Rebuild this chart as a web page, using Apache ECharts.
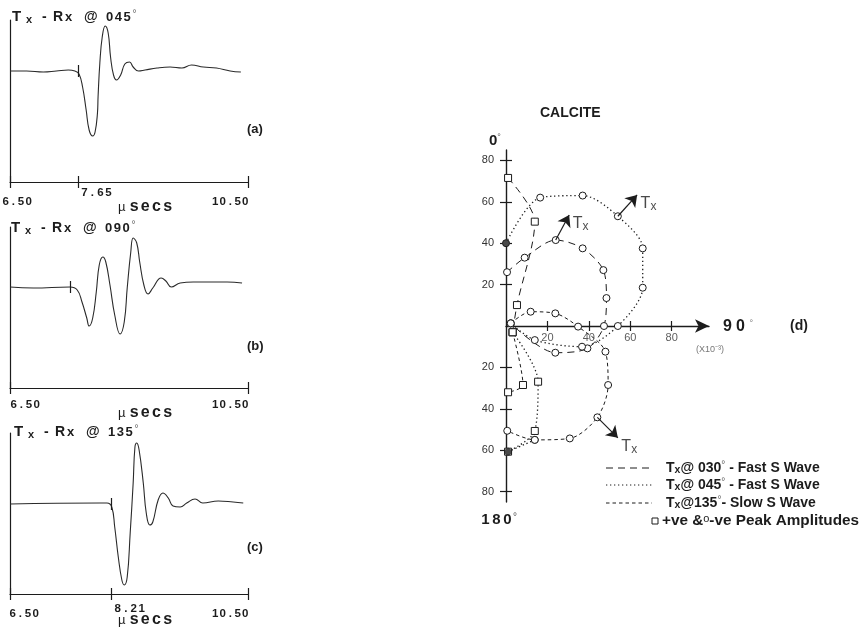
<!DOCTYPE html>
<html><head><meta charset="utf-8">
<script src="https://cdn.jsdelivr.net/npm/echarts@6/dist/echarts.min.js"></script>
<style>html,body{margin:0;padding:0;background:#fff}#c{width:863px;height:629px}</style>
</head><body><div id="c"></div>
<script>
// ---------- Waveforms (time in µs, amplitude in arbitrary units) ----------
// (a) Tx - Rx @ 045°
const timeA = [6.50,6.78,7.06,7.28,7.48,7.59,7.66,7.72,7.78,7.83,7.89,7.93,7.97,7.98,8.01,8.05,8.10,8.15,8.19,8.24,8.29,8.36,8.43,8.51,8.57,8.66,8.77,8.97,9.19,9.39,9.55,9.75,9.97,10.20,10.38];
const ampA  = [0,0,-1,0,1,0,-3,-16,-39,-59,-65,-61,-42,-26,8,34,45,38,14,-4,-9,-4,7,9,4,0,1,3,4,3,6,4,3,0,-1];
// (b) Tx - Rx @ 090°
const timeB = [6.50,6.89,7.51,7.63,7.71,7.79,7.83,7.89,7.95,8.00,8.06,8.11,8.18,8.26,8.35,8.42,8.47,8.53,8.57,8.63,8.68,8.75,8.82,8.90,9.04,9.12,9.21,9.36,9.58,9.86,10.15,10.40];
const ampB  = [0,-1,0,-3,-15,-31,-39,-31,-5,22,30,25,2,-28,-47,-35,-1,35,49,44,25,2,-7,-1,9,6,0,4,5,5,5,4];
// (c) Tx - Rx @ 135°
const timeC = [6.50,8.01,8.13,8.21,8.26,8.32,8.38,8.42,8.47,8.52,8.57,8.60,8.63,8.67,8.74,8.79,8.85,8.90,8.99,9.07,9.16,9.24,9.36,9.47,9.61,9.74,10.00,10.25,10.42];
const ampC  = [0,1,1,-3,-23,-53,-76,-81,-73,-29,21,57,61,54,21,-9,-21,-18,4,11,6,-2,-3,1,5,1,3,2,1];
const timeRange = [6.50, 10.50];
const onsetA = 7.65, onsetB = 7.51, onsetC = 8.21;
const panelAngles = ['045', '090', '135'];

// ---------- (d) CALCITE polar amplitude plot (x10^-3) ----------
const fast030Neg = [[0.5,26],[9,33],[24,41.5],[37,37.5],[47,27],[48.5,13.5],[47.3,0],[39.3,-10.8],[23.8,-12.9],[2.3,1.3]];
const fast030Pos = [[1,71.5],[13.9,50.4],[5.3,10.1],[3.2,-3]];
const fast045Neg = [[0,40],[16.5,62],[37,63],[54,53],[66,37.5],[66,18.5],[54,0],[36.7,-10],[13.9,-6.8],[2.3,1.3]];
const fast045NegLower = [[1,-60.7],[13.9,-55]];
const fast045Pos = [[3.2,-3],[15.5,-26.9],[13.9,-50.7],[1,-60.7]];
const slow135Neg = [[2.3,1.3],[11.9,6.9],[23.8,6.1],[34.8,-0.3],[48,-12.4],[49.3,-28.5],[44.1,-44.1],[30.8,-54.3],[13.9,-55],[0.6,-50.6]];
const slow135Pos = [[3.2,-3],[8.2,-28.5],[1,-32]];
const overlapPeaks = [[0,40],[1,-60.7]];
const txFrom = [[54,53],[24,41.5],[44.1,-44.1]];
const txTo   = [[63.3,63.3],[30.5,53.6],[54,-54]];
const ampTicks = [-80,-60,-40,-20,20,40,60,80];
const bearingTicks = [20,40,60,80];

const FONT = '"Liberation Sans", Arial, Helvetica, sans-serif';
const ink = '#1c1c1c';
const bold = (s) => 'bold ' + s + 'px ' + FONT;
const zip = (xs, ys) => xs.map((x, i) => [x, ys[i]]);

// letter-spaced text made of fixed-width rich cells
function spaced(str, cell, font, fill) {
  const rich = {c: {width: cell, align: 'center', font: font, fill: fill || ink}};
  return {text: str.split('').map(ch => '{c|' + ch + '}').join(''), rich: rich};
}

const chart = echarts.init(document.getElementById('c'), null, {renderer: 'canvas'});

const panels = [
  {top: 20, h: 162, y: [-111, 51], t: timeA, a: ampA, onset: onsetA, ticks: [6.5, onsetA, 10.5], lab: 202, mu: 207, minOff: -8, title: [12, 17]},
  {top: 227, h: 161, y: [-101, 60], t: timeB, a: ampB, onset: onsetB, ticks: [6.5, 10.5], lab: 405, mu: 413, minOff: 0, title: [11, 228]},
  {top: 433, h: 161, y: [-90, 71], t: timeC, a: ampC, onset: onsetC, ticks: [6.5, onsetC, 10.5], lab: 614, mu: 620, minOff: -1, title: [14, 432]}
];

const grids = [], xAxes = [], yAxes = [], series = [];
const axLine = {show: true, onZero: false, lineStyle: {color: ink, width: 1.2}};
panels.forEach((p, i) => {
  grids.push({left: 10, top: p.top, width: 238, height: p.h, outerBoundsMode: 'none', containLabel: false});
  xAxes.push({
    type: 'value', gridIndex: i, min: timeRange[0], max: timeRange[1], position: 'bottom',
    axisLine: axLine, splitLine: {show: false}, axisLabel: {show: false},
    axisTick: {show: true, length: 6, customValues: p.ticks, lineStyle: {color: ink, width: 1.2}}
  });
  yAxes.push({
    type: 'value', gridIndex: i, min: p.y[0], max: p.y[1],
    axisLine: axLine, axisTick: {show: false}, axisLabel: {show: false}, splitLine: {show: false}
  });
  series.push({
    type: 'line', xAxisIndex: i, yAxisIndex: i, data: zip(p.t, p.a), smooth: 0.45, showSymbol: false,
    lineStyle: {color: '#2a2a2a', width: 1.1},
    markLine: {silent: true, symbol: 'none', label: {show: false}, animation: false,
      lineStyle: {color: ink, width: 1.2, type: 'solid'},
      data: [[{coord: [p.onset, -6]}, {coord: [p.onset, 6]}]]}
  });
});
panels.forEach((p, i) => {
  xAxes.push({
    type: 'value', gridIndex: i, min: timeRange[0], max: timeRange[1], position: 'bottom',
    axisLine: {show: false, onZero: false}, splitLine: {show: false}, axisLabel: {show: false},
    axisTick: {show: true, inside: true, length: 6, customValues: p.ticks, lineStyle: {color: ink, width: 1.2}}
  });
});

// (d) grid: index 3
grids.push({left: 506, top: 150, width: 203, height: 352, outerBoundsMode: 'none', containLabel: false});
const xD = xAxes.length;
xAxes.push({
  type: 'value', gridIndex: 3, min: 0, max: 98, position: 'bottom',
  axisLine: {show: true, onZero: true, symbol: ['none', 'arrow'], symbolSize: [10, 14], lineStyle: {color: ink, width: 1.4}},
  axisTick: {show: true, length: 5, customValues: bearingTicks, lineStyle: {color: ink, width: 1.2}},
  axisLabel: {show: false}, splitLine: {show: false}
});
xAxes.push({
  type: 'value', gridIndex: 3, min: 0, max: 98, position: 'bottom',
  axisLine: {show: false, onZero: true},
  axisTick: {show: true, inside: true, length: 5, customValues: bearingTicks, lineStyle: {color: ink, width: 1.2}},
  axisLabel: {show: false}, splitLine: {show: false}
});
const yD = yAxes.length;
yAxes.push({
  type: 'value', gridIndex: 3, min: -85, max: 85, position: 'left',
  axisLine: {show: true, onZero: true, lineStyle: {color: ink, width: 1.4}},
  axisTick: {show: true, length: 6, customValues: ampTicks, lineStyle: {color: ink, width: 1.2}},
  axisLabel: {show: true, customValues: ampTicks, margin: 12, formatter: v => String(Math.abs(v)),
    color: '#333', fontFamily: FONT, fontSize: 11},
  splitLine: {show: false}
});
yAxes.push({
  type: 'value', gridIndex: 3, min: -85, max: 85, position: 'left',
  axisLine: {show: false, onZero: true},
  axisTick: {show: true, inside: true, length: 6, customValues: ampTicks, lineStyle: {color: ink, width: 1.2}},
  axisLabel: {show: false}, splitLine: {show: false}
});

const LONG = [7, 5], DOT = [1.3, 2.7], SHORT = [3.5, 3];
function curve(data, dash, symbol, w) {
  return {
    type: 'line', xAxisIndex: xD, yAxisIndex: yD, data, smooth: 0.3, symbol, symbolSize: 7, showSymbol: true,
    lineStyle: {color: ink, width: w || 1, type: dash},
    itemStyle: {color: '#fff', borderColor: ink, borderWidth: 1}, z: 3
  };
}
series.push(curve(fast030Neg, LONG, 'circle'));
series.push(curve(fast030Pos, LONG, 'rect'));
series.push(curve(fast045Neg, DOT, 'circle', 1.3));
series.push(curve(fast045NegLower, DOT, 'circle', 1.3));
series.push(curve(fast045Pos, DOT, 'rect', 1.3));
series.push(curve(slow135Neg, SHORT, 'circle'));
series.push(curve(slow135Pos, SHORT, 'rect'));
series.push({type: 'scatter', xAxisIndex: xD, yAxisIndex: yD, data: overlapPeaks, symbol: 'circle', symbolSize: 7,
  itemStyle: {color: ink}, z: 5});
// bearing labels under the 0–90° axis (placed on the axis through the scale)
series.push({type: 'scatter', xAxisIndex: xD, yAxisIndex: yD, data: bearingTicks.map(v => [v, 0]), symbolSize: 1,
  itemStyle: {color: 'transparent'}, silent: true, z: 6,
  label: {show: true, position: 'bottom', distance: 6, formatter: p => String(p.value[0]),
    color: '#333', fontFamily: FONT, fontSize: 11}});
// Tx arrows
series.push({
  type: 'line', xAxisIndex: xD, yAxisIndex: yD, data: [], z: 4,
  markLine: {silent: true, animation: false, symbol: ['none', 'arrow'], symbolSize: 11, label: {show: false},
    lineStyle: {color: ink, width: 1.2, type: 'solid'},
    data: txFrom.map((f, i) => [{coord: f}, {coord: txTo[i]}])}
});
const txRich = {t: {fontSize: 16, fontFamily: FONT, color: ink, lineHeight: 18, verticalAlign: 'middle'},
                s: {fontSize: 12, fontFamily: FONT, color: ink, lineHeight: 12, verticalAlign: 'bottom'}};
series.push({
  type: 'scatter', xAxisIndex: xD, yAxisIndex: yD, data: txTo, symbolSize: 1, itemStyle: {color: 'transparent'},
  label: {show: true, position: 'right', distance: 3, offset: [0, 9], formatter: '{t|T}{s|x}', rich: txRich}
});

// ---------- free text ----------
function titleText(angle) {
  const d = angle.split('');
  return {
    text: '{T|T}{s|x}{m|-}{R|R}{x|x}{a|@}' + d.map(c => '{g|' + c + '}').join('') + '{o|°}',
    verticalAlign: 'middle', fill: ink,
    rich: {
      T: {font: bold(15), width: 14, lineHeight: 16, verticalAlign: 'middle'},
      s: {font: bold(11), width: 16, lineHeight: 10, verticalAlign: 'bottom'},
      m: {font: bold(14), width: 11, lineHeight: 16, verticalAlign: 'middle'},
      R: {font: bold(14), width: 12, lineHeight: 16, verticalAlign: 'middle'},
      x: {font: bold(13), width: 19, lineHeight: 16, verticalAlign: 'middle'},
      a: {font: bold(14), width: 22, lineHeight: 16, verticalAlign: 'middle'},
      g: {font: bold(13), width: 8.8, lineHeight: 16, verticalAlign: 'middle'},
      o: {font: '10px ' + FONT, fill: '#666', lineHeight: 10, verticalAlign: 'top'}
    }
  };
}
const graphic = [];
panels.forEach((p, i) => {
  graphic.push({type: 'text', x: p.title[0], y: p.title[1], style: titleText(panelAngles[i])});
  graphic.push({type: 'text', x: 118, y: p.mu, style: {
    text: '{m|µ}{g| }{c|s}{c|e}{c|c}{c|s}', verticalAlign: 'middle', fill: ink,
    rich: {m: {font: '13px ' + FONT, lineHeight: 16}, g: {font: '13px ' + FONT, width: 3},
           c: {font: bold(16), width: 11.2, align: 'center', lineHeight: 16}}}});
});
[['(a)', 129], ['(b)', 346], ['(c)', 547]].forEach(([s, y]) => {
  graphic.push({type: 'text', x: 247, y: y, style: {text: s, font: bold(13), fill: ink, verticalAlign: 'middle'}});
});
// (d) texts
graphic.push({type: 'text', x: 540, y: 106, style: {text: 'CALCITE', font: bold(14), fill: ink}});
graphic.push({type: 'text', x: 489, y: 133, style: {text: '{a|0}{b|°}', fill: ink,
  rich: {a: {font: bold(15), lineHeight: 16}, b: {font: '9px ' + FONT, fill: '#555', lineHeight: 10, verticalAlign: 'top'}}}});
(function () {
  const s = spaced('180', 11, bold(15));
  s.text += '{b|°}'; s.rich.b = {font: '10px ' + FONT, fill: '#555', lineHeight: 10, verticalAlign: 'top'};
  s.verticalAlign = 'middle';
  graphic.push({type: 'text', x: 480, y: 520, style: s});
  const n = spaced('90', 13, bold(16));
  n.text += '{b| °}'; n.rich.b = {font: '9px ' + FONT, fill: '#777', lineHeight: 10, verticalAlign: 'top'};
  n.verticalAlign = 'middle';
  graphic.push({type: 'text', x: 721, y: 327, style: n});
})();
graphic.push({type: 'text', x: 790, y: 326, style: {text: '(d)', font: bold(14), fill: ink, verticalAlign: 'middle'}});
graphic.push({type: 'text', x: 696, y: 345, style: {text: '(X10\u207B\u00B3)', font: '9px ' + FONT, fill: '#777'}});

// legend
const legendY = [468, 485, 503];
const legendDash = [LONG, DOT, SHORT];
const legendText = [['@ 030', ' - Fast S Wave'], ['@ 045', ' - Fast S Wave'], ['@135', '- Slow S Wave']];
legendY.forEach((y, i) => {
  graphic.push({type: 'line', shape: {x1: 606, y1: y, x2: 652, y2: y},
    style: {stroke: ink, lineWidth: 1, lineDash: legendDash[i]}});
  graphic.push({type: 'text', x: 666, y: y, style: {
    text: '{t|T}{s|x}{n|' + legendText[i][0] + '}{d|°}{n|' + legendText[i][1] + '}', verticalAlign: 'middle', fill: ink,
    rich: {
      t: {font: bold(14), lineHeight: 16, verticalAlign: 'middle'},
      s: {font: bold(10.5), lineHeight: 11, verticalAlign: 'bottom'},
      n: {font: bold(14), lineHeight: 16, verticalAlign: 'middle'},
      d: {font: '10px ' + FONT, fill: '#666', lineHeight: 10, verticalAlign: 'top'}
    }}});
});
graphic.push({type: 'rect', shape: {x: 652, y: 518, width: 6, height: 6}, style: {fill: '#fff', stroke: ink, lineWidth: 1}});
graphic.push({type: 'text', x: 662, y: 521, style: {text: '{n|+ve &}{o|o}{n|-ve Peak Amplitudes}', verticalAlign: 'middle', fill: ink,
  rich: {n: {font: bold(15.3), lineHeight: 16}, o: {font: '11px ' + FONT, lineHeight: 12, verticalAlign: 'top'}}}});

chart.setOption({
  animation: false,
  backgroundColor: '#fff',
  textStyle: {fontFamily: FONT},
  grid: grids, xAxis: xAxes, yAxis: yAxes, series: series, graphic: graphic
});

// time labels placed through each panel's time scale
const extra = [];
panels.forEach((p, i) => {
  const x0 = chart.convertToPixel({xAxisIndex: i}, timeRange[0]);
  const x1 = chart.convertToPixel({xAxisIndex: i}, timeRange[1]);
  const a = spaced(timeRange[0].toFixed(2), 7.6, bold(11.5)); a.verticalAlign = 'middle';
  extra.push({type: 'text', x: x0 + p.minOff, y: p.lab, style: a});
  const b = spaced(timeRange[1].toFixed(2), 7.5, bold(11.5)); b.verticalAlign = 'middle';
  extra.push({type: 'text', x: x1 + 1 - 37.5, y: p.lab, style: b});
});
[[0, onsetA, 193], [2, onsetC, 609]].forEach(([idx, v, y]) => {
  const px = chart.convertToPixel({xAxisIndex: idx}, v);
  const s = spaced(v.toFixed(2), 8, bold(11.5)); s.verticalAlign = 'middle';
  extra.push({type: 'text', x: px + 2, y: y, style: s});
});
chart.setOption({graphic: graphic.concat(extra)});
</script>
</body></html>
